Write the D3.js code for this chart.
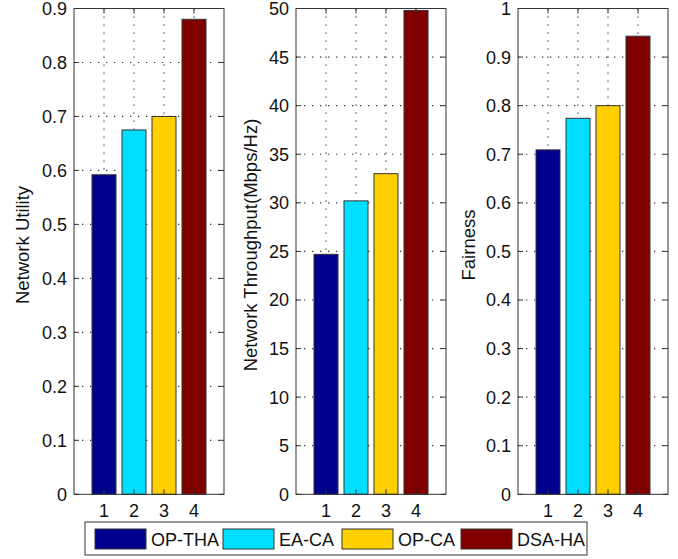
<!DOCTYPE html>
<html>
<head>
<meta charset="utf-8">
<script src="https://cdn.jsdelivr.net/npm/d3@7"></script>
<style>
  body { margin: 0; background: #fff; }
  svg { display: block; font-family: "Liberation Sans", Arial, sans-serif; }
</style>
</head>
<body>
<div id="chart"></div>
<script>
// values
const groups = [1, 2, 3, 4];
const schemes = ["OP-THA", "EA-CA", "OP-CA", "DSA-HA"];
const colors = ["#00008f", "#00dfff", "#ffcf00", "#800000"];
const utility = [0.592, 0.675, 0.700, 0.880];
const throughput = [24.7, 30.2, 33.0, 49.8];
const fairness = [0.709, 0.774, 0.800, 0.943];
const utilityTicks = [0, 0.1, 0.2, 0.3, 0.4, 0.5, 0.6, 0.7, 0.8, 0.9];
const throughputTicks = [0, 5, 10, 15, 20, 25, 30, 35, 40, 45, 50];
const fairnessTicks = [0, 0.1, 0.2, 0.3, 0.4, 0.5, 0.6, 0.7, 0.8, 0.9, 1];

const W = 678, H = 559;
const plotTop = 8.5, plotBottom = 494.3, boxW = 150;

const svg = d3.select("#chart").append("svg")
  .attr("width", W).attr("height", H);
svg.append("rect").attr("width", W).attr("height", H).attr("fill", "#fff");

const panels = [
  {x0: 74, values: utility, ticks: utilityTicks, max: 0.9, label: "Network Utility", labelX: 29},
  {x0: 296, values: throughput, ticks: throughputTicks, max: 50, label: "Network Throughput(Mbps/Hz)", labelX: 257},
  {x0: 518, values: fairness, ticks: fairnessTicks, max: 1, label: "Fairness", labelX: 475}
];

panels.forEach(p => {
  let x = d3.scaleLinear().domain([0, 5]).range([p.x0, p.x0 + boxW]);
  let y = d3.scaleLinear().domain([0, p.max]).range([plotBottom, plotTop]);
  let g = svg.append("g");

  // dotted grid
  g.selectAll(".gy").data(p.ticks.slice(1, -1)).enter().append("line")
    .attr("x1", p.x0).attr("x2", p.x0 + boxW)
    .attr("y1", d => y(d)).attr("y2", d => y(d))
    .attr("stroke", "#333").attr("stroke-width", 1.2)
    .attr("stroke-dasharray", "1.3,6.7");
  g.selectAll(".gx").data(groups).enter().append("line")
    .attr("x1", d => x(d)).attr("x2", d => x(d))
    .attr("y1", plotTop).attr("y2", plotBottom)
    .attr("stroke", "#333").attr("stroke-width", 1.2)
    .attr("stroke-dasharray", "1.3,6.7");

  // bars
  g.selectAll(".bar").data(p.values).enter().append("rect")
    .attr("x", (d, i) => x(groups[i] - 0.4))
    .attr("width", x(0.8) - x(0))
    .attr("y", d => y(d))
    .attr("height", d => plotBottom - y(d))
    .attr("fill", (d, i) => colors[i])
    .attr("stroke", "#333").attr("stroke-width", 1);

  // ticks inside the box on all sides
  let tl = 5;
  p.ticks.forEach(t => {
    g.append("line").attr("x1", p.x0).attr("x2", p.x0 + tl)
      .attr("y1", y(t)).attr("y2", y(t)).attr("stroke", "#333");
    g.append("line").attr("x1", p.x0 + boxW - tl).attr("x2", p.x0 + boxW)
      .attr("y1", y(t)).attr("y2", y(t)).attr("stroke", "#333");
  });
  groups.forEach(t => {
    g.append("line").attr("x1", x(t)).attr("x2", x(t))
      .attr("y1", plotBottom).attr("y2", plotBottom - tl).attr("stroke", "#333");
    g.append("line").attr("x1", x(t)).attr("x2", x(t))
      .attr("y1", plotTop).attr("y2", plotTop + tl).attr("stroke", "#333");
  });

  // box
  g.append("rect").attr("x", p.x0).attr("y", plotTop)
    .attr("width", boxW).attr("height", plotBottom - plotTop)
    .attr("fill", "none").attr("stroke", "#333").attr("stroke-width", 1);

  // tick labels
  g.selectAll(".yl").data(p.ticks).enter().append("text")
    .attr("x", p.x0 - 7).attr("y", d => y(d) + 6.5)
    .attr("text-anchor", "end").attr("font-size", 18).attr("fill", "#111")
    .text(d => d);
  g.selectAll(".xl").data(groups).enter().append("text")
    .attr("x", d => x(d)).attr("y", 517)
    .attr("text-anchor", "middle").attr("font-size", 18).attr("fill", "#111")
    .text(d => d);

  // y label
  g.append("text")
    .attr("transform", `translate(${p.labelX},245) rotate(-90)`)
    .attr("text-anchor", "middle").attr("font-size", 18.5).attr("fill", "#111")
    .text(p.label);
});

// legend
const leg = svg.append("g");
leg.append("rect").attr("x", 85).attr("y", 522).attr("width", 502).attr("height", 33)
  .attr("fill", "#fff").attr("stroke", "#333").attr("stroke-width", 1);
const patchX = [95, 223, 342, 461];
schemes.forEach((s, i) => {
  leg.append("rect").attr("x", patchX[i]).attr("y", 529).attr("width", 51).attr("height", 20)
    .attr("fill", colors[i]).attr("stroke", "#333").attr("stroke-width", 1);
  leg.append("text").attr("x", patchX[i] + 56).attr("y", 545.5)
    .attr("font-size", 18).attr("fill", "#111").text(s);
});
</script>
</body>
</html>
